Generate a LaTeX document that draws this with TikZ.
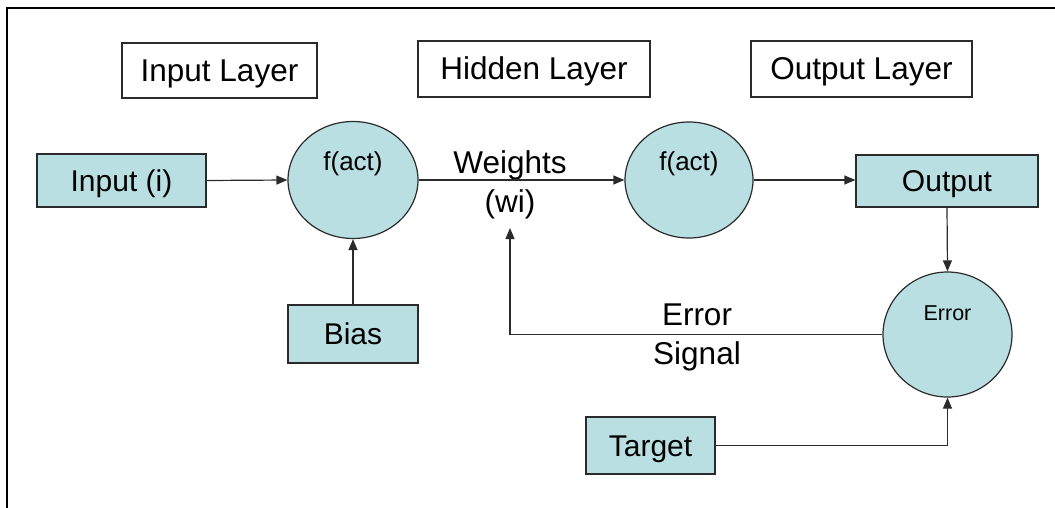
\documentclass[tikz,border=0pt]{standalone}
\usepackage{fontspec}
\setmainfont{Liberation Sans}
\usetikzlibrary{shapes.geometric,arrows.meta}
\definecolor{cellfill}{HTML}{B9DFE3}
\definecolor{edge}{HTML}{2B2B2B}
\begin{document}
\begin{tikzpicture}[x=1pt,y=-1pt,
 lbl/.style={draw=edge, line width=1.2pt, fill=white, inner sep=0pt, text height=22pt, text depth=0pt, font=\fontsize{31.5}{37}\selectfont},
 cell/.style={draw=edge, line width=1.2pt, fill=cellfill, inner sep=0pt, text height=21pt, text depth=0pt, font=\fontsize{30}{36}\selectfont},
 unit/.style={draw=edge, line width=1.2pt, fill=cellfill, ellipse, inner sep=0pt},
 link/.style={draw=edge, line width=1.2pt, -{Triangle[length=11pt,width=9pt]}},
 plain/.style={font=\fontsize{31.5}{39}\selectfont, align=center, inner sep=0pt},
 small/.style={font=\fontsize{26}{30}\selectfont},
 tiny/.style={font=\fontsize{21.5}{26}\selectfont}
]
\useasboundingbox (0,0) rectangle (1055,508);
\draw[line width=2pt] (7,508) -- (7,8) -- (1055,8);

\node[lbl, minimum width=195pt, minimum height=55pt] (inl) at (219.5,70.5) {Input Layer};
\node[lbl, minimum width=232pt, minimum height=56pt] (hidl) at (534,69) {Hidden Layer};
\node[lbl, minimum width=221pt, minimum height=56pt] (outl) at (861.5,69) {Output Layer};

\node[cell, minimum width=169pt, minimum height=53pt] (inp) at (121.5,180.5) {Input (i)};
\node[unit, minimum width=130pt, minimum height=117pt,
  label={[small, anchor=center, yshift=16pt]center:f(act)}] (f1) at (353,180) {};
\node[unit, minimum width=128pt, minimum height=116pt,
  label={[small, anchor=center, yshift=16pt]center:f(act)}] (f2) at (689,180) {};
\node[cell, minimum width=182pt, minimum height=52pt] (out) at (947,181) {Output};
\node[unit, minimum width=129pt, minimum height=125pt,
  label={[tiny, anchor=center, yshift=21pt]center:Error}] (err) at (947.5,334.5) {};
\node[cell, minimum width=130pt, minimum height=58pt] (bias) at (353,334) {Bias};
\node[cell, minimum width=129pt, minimum height=57pt] (tgt) at (650.5,445.5) {Target};

\node[plain] (wlab) at (510,185) {Weights\\(wi)};
\node[plain] (elab) at (697,337) {Error\\Signal};
\coordinate (wtip) at (510,228);

\draw[link] (inp.east) -- (f1.west);
\draw[link] (f1.east) -- (f2.west);
\draw[link] (f2.east) -- (out.west |- f2.east);
\draw[link] (bias.north) -- (f1.south);
\draw[link] (out.south) -- (err.north);
\draw[link] (tgt.east) -| (err.south);
\draw[link] (err.west) -| (wtip);
\end{tikzpicture}
\end{document}
